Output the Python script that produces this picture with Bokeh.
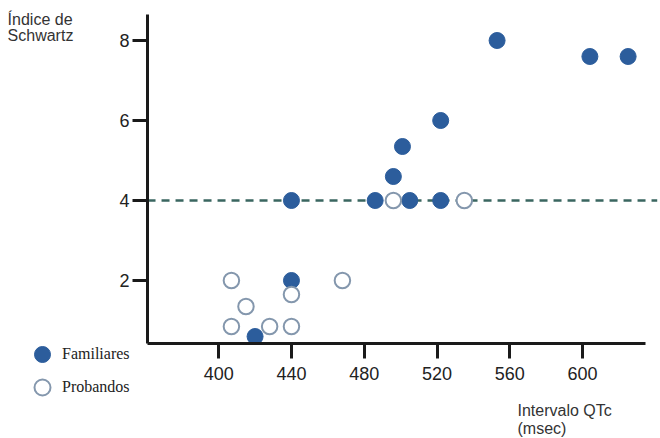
from bokeh.plotting import figure
from bokeh.models import Range1d, Label, Legend, LegendItem, FixedTicker
from bokeh.embed import file_html
from bokeh.resources import INLINE

# Data
fam_qtc = [553, 604, 625, 522, 501, 496, 440, 486, 505, 522, 440, 420]
fam_score = [8, 7.6, 7.6, 6, 5.35, 4.6, 4, 4, 4, 4, 2, 0.6]
prob_qtc = [496, 535, 407, 468, 415, 440, 407, 428, 440]
prob_score = [4, 4, 2, 2, 1.35, 1.65, 0.85, 0.85, 0.85]
x_ticks = [400, 440, 480, 520, 560, 600]
y_ticks = [2, 4, 6, 8]
threshold = 4

# axis extents (data units)
X_AXIS = (360.9, 634.6)
Y_AXIS = (0.425, 8.65)
LINE_END = 641

FONT = "Liberation Sans"
BLUE = "#2c5d9c"

p = figure(width=660, height=438, output_backend="svg", toolbar_location=None,
           x_range=Range1d(280.1, 642.8), y_range=Range1d(-1.95, 9.0),
           min_border_left=0, min_border_right=0, min_border_top=0, min_border_bottom=0,
           background_fill_color="white", border_fill_color="white")
p.outline_line_color = None
p.grid.visible = False

xa = p.xaxis[0]
ya = p.yaxis[0]
xa.fixed_location = Y_AXIS[0]
ya.fixed_location = X_AXIS[0]
xa.bounds = X_AXIS
ya.bounds = Y_AXIS

for ax in (xa, ya):
    ax.axis_line_width = 3
    ax.axis_line_color = "#1a1a1a"
    ax.major_tick_line_width = 3
    ax.major_tick_line_color = "#1a1a1a"
    ax.minor_tick_line_color = None
    ax.major_tick_in = 0
    ax.major_tick_out = 15
    ax.major_label_text_font = FONT
    ax.major_label_text_font_size = "18px"
    ax.major_label_text_color = "#222222"

xa.ticker = FixedTicker(ticks=x_ticks)
ya.ticker = FixedTicker(ticks=y_ticks)
xa.major_label_standoff = 8
ya.major_label_standoff = 3

p.segment(x0=[X_AXIS[0]], y0=[threshold], x1=[LINE_END], y1=[threshold],
          line_color="#3a6660", line_width=2.5, line_dash="8 6")

r_fam = p.scatter(fam_qtc, fam_score, size=16, fill_color=BLUE, line_color=BLUE,
                  line_width=1)
r_prob = p.scatter(prob_qtc, prob_score, size=15.5, fill_color="white",
                   line_color="#8497ad", line_width=2)

for lab, rend, loc in [("Familiares", r_fam, (22, 64)), ("Probandos", r_prob, (22, 31))]:
    p.add_layout(Legend(items=[LegendItem(label=lab, renderers=[rend])],
                        location=loc, orientation="vertical",
                        glyph_width=40, glyph_height=40, spacing=0, padding=0, margin=0,
                        label_standoff=0, label_text_font="Liberation Serif",
                        label_text_font_size="16px", label_text_color="#222222",
                        background_fill_alpha=0, border_line_color=None))

for txt, x, y in [("Índice de", 284.0, 8.53), ("Schwartz", 284.0, 8.13),
                  ("Intervalo QTc", 564.2, -1.25), ("(msec)", 564.2, -1.7)]:
    p.add_layout(Label(x=x, y=y, text=txt, text_font=FONT, text_font_size="16px",
                       text_color="#333333", text_baseline="alphabetic", text_align="left"))

open("out.html", "w").write(file_html(p, INLINE))
